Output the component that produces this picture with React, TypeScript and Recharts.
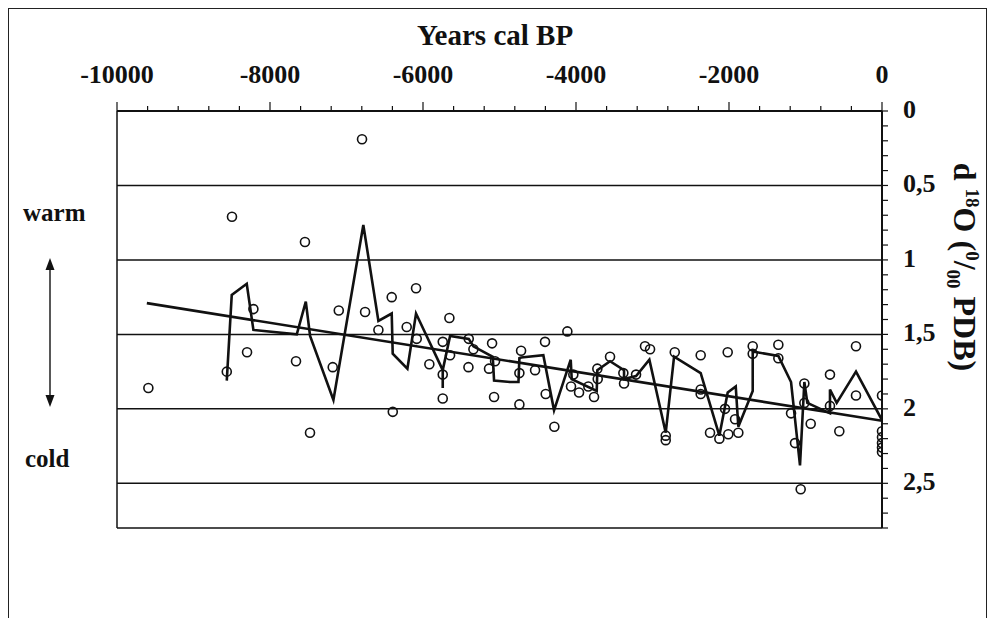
import { ComposedChart, Scatter, Line, XAxis, YAxis, ReferenceLine } from 'recharts'

// measured d18O samples (years cal BP, permil PDB)
const sampleAge = [
  -9590, -8565, -8497, -8300, -8217, -7660, -7543, -7477, -7180, -7101,
  -6797, -6757, -6583, -6409, -6395, -6213, -6091, -6082, -5917, -5742,
  -5742, -5742, -5655, -5646, -5402, -5406, -5341, -5097, -5058, -5137,
  -5071, -4718, -4740, -4740, -4535, -4405, -4396, -4283, -4113, -4065,
  -4035, -3960, -3839, -3764, -3721, -3716, -3555, -3381, -3372, -3215,
  -3098, -3032, -2827, -2827, -2709, -2370, -2370, -2370, -2248, -2126,
  -2017, -2009, -2052, -1921, -1878, -1690, -1690, -1355, -1355, -1189,
  -1137, -1063, -1015, -1015, -932, -680, -680, -558, -340, -340,
  0, 0, 0, 0, 0, 0,
]
const sampleD18O = [
  1.86, 1.75, 0.71, 1.62, 1.33, 1.68, 0.88, 2.16, 1.72, 1.34,
  0.19, 1.35, 1.47, 1.25, 2.02, 1.45, 1.19, 1.53, 1.7, 1.55,
  1.77, 1.93, 1.39, 1.64, 1.53, 1.72, 1.6, 1.56, 1.68, 1.73,
  1.92, 1.61, 1.76, 1.97, 1.74, 1.55, 1.9, 2.12, 1.48, 1.85,
  1.77, 1.89, 1.85, 1.92, 1.73, 1.8, 1.65, 1.76, 1.83, 1.77,
  1.58, 1.6, 2.18, 2.21, 1.62, 1.64, 1.87, 1.9, 2.16, 2.2,
  1.62, 2.17, 2.0, 2.07, 2.16, 1.58, 1.63, 1.57, 1.66, 2.03,
  2.23, 2.54, 1.83, 1.96, 2.1, 1.77, 1.98, 2.15, 1.58, 1.91,
  1.91, 2.15, 2.19, 2.23, 2.26, 2.29,
]

// smoothed curve
const curveAge = [
  -8565, -8500, -8304, -8217, -7650, -7532, -7476, -7171, -6780, -6583,
  -6409, -6396, -6204, -6091, -5742, -5742, -5742, -5646, -5402, -5341,
  -5088, -5071, -4862, -4752, -4740, -4718, -4427, -4287, -4069, -4056,
  -3729, -3721, -3555, -3372, -3372, -3215, -3041, -2827, -2718, -2370,
  -2126, -2017, -1912, -1878, -1690, -1690, -1355, -1189, -1072, -1015,
  -976, -680, -680, -592, -340, 0,
]
const curveD18O = [
  1.81, 1.235, 1.16, 1.47, 1.5, 1.28, 1.51, 1.94, 0.765, 1.41,
  1.36, 1.63, 1.73, 1.36, 1.74, 1.86, 1.74, 1.51, 1.53, 1.58,
  1.65, 1.81, 1.82, 1.82, 1.66, 1.655, 1.64, 2.01, 1.67, 1.8,
  1.88, 1.74, 1.68, 1.74, 1.8, 1.78, 1.67, 2.16, 1.65, 1.76,
  2.18, 1.89, 1.85, 2.12, 1.88, 1.615, 1.645, 1.82, 2.38, 1.82,
  1.96, 2.03, 1.87, 1.96, 1.75, 2.075,
]

// linear trend
const trendAge = [-9610, 0]
const trendD18O = [1.29, 2.08]

const xTicks = [
  -10000, -9600, -9200, -8800, -8400, -8000, -7600, -7200, -6800, -6400,
  -6000, -5600, -5200, -4800, -4400, -4000, -3600, -3200, -2800, -2400,
  -2000, -1600, -1200, -800, -400, 0,
]
const yTicks = [
  0, 0.1, 0.2, 0.3, 0.4, 0.5, 0.6, 0.7, 0.8, 0.9, 1, 1.1, 1.2, 1.3, 1.4,
  1.5, 1.6, 1.7, 1.8, 1.9, 2, 2.1, 2.2, 2.3, 2.4, 2.5, 2.6, 2.7, 2.8,
]
const gridValues = [0.5, 1, 1.5, 2, 2.5]

const samples = sampleAge.map((age, i) => ({ age, d18o: sampleD18O[i] }))
const curve = curveAge.map((age, i) => ({ age, d18o: curveD18O[i] }))
const trend = trendAge.map((age, i) => ({ age, d18o: trendD18O[i] }))

const FONT = '"Liberation Serif", "Times New Roman", serif'
const INK = '#111'

function TopTick(props: any) {
  const { x, y, payload } = props
  const major = payload.value % 2000 === 0
  return (
    <g>
      <line x1={x} y1={y} x2={x} y2={y - (major ? 9 : 5)} stroke={INK} strokeWidth={1.2} />
      {major && (
        <text x={x} y={y - 28} textAnchor="middle" fontFamily={FONT} fontWeight="bold" fontSize={26} fill={INK}>
          {payload.value}
        </text>
      )}
    </g>
  )
}

function RightTick(props: any) {
  const { x, y, payload } = props
  const v = payload.value
  if (Math.abs(v * 2 - Math.round(v * 2)) > 1e-6) return <g />
  return (
    <text x={x} y={y + 7} textAnchor="start" fontFamily={FONT} fontWeight="bold" fontSize={26} fill={INK}>
      {String(v).replace('.', ',')}
    </text>
  )
}

function Ring(props: any) {
  return <circle cx={props.cx} cy={props.cy} r={4.5} fill="none" stroke={INK} strokeWidth={1.6} />
}

export default function App() {
  return (
    <div style={{ position: 'fixed', left: 0, top: 0, width: 987, height: 618, background: '#fff', overflow: 'hidden' }}>
      <div style={{ position: 'absolute', left: 8, top: 8 }}>
        <ComposedChart width={979} height={610} margin={{ top: 43, right: 45, bottom: 90, left: 109 }}>
          <XAxis
            xAxisId={0}
            dataKey="age"
            type="number"
            orientation="top"
            domain={[-10000, 0]}
            allowDataOverflow
            ticks={xTicks}
            interval={0}
            height={60}
            tickSize={0}
            tickMargin={0}
            tickLine={false}
            tick={<TopTick />}
            axisLine={{ stroke: INK, strokeWidth: 2 }}
          />
          <YAxis
            yAxisId={0}
            dataKey="d18o"
            type="number"
            orientation="right"
            reversed
            domain={[0, 2.8]}
            allowDataOverflow
            ticks={yTicks}
            interval={0}
            width={60}
            tickSize={6}
            tickMargin={15}
            tickLine={{ stroke: INK, strokeWidth: 1.2 }}
            tick={<RightTick />}
            axisLine={{ stroke: INK, strokeWidth: 2 }}
          />
          {gridValues.map((v) => (
            <ReferenceLine key={v} y={v} stroke={INK} strokeWidth={1.5} />
          ))}
          <ReferenceLine y={2.8} stroke={INK} strokeWidth={1.5} />
          <ReferenceLine x={-10000} stroke={INK} strokeWidth={1.5} />
          <Scatter data={samples} dataKey="d18o" shape={<Ring />} isAnimationActive={false} />
          <Line data={curve} dataKey="d18o" type="linear" stroke={INK} strokeWidth={2.6} dot={false} isAnimationActive={false} />
          <Line data={trend} dataKey="d18o" type="linear" stroke={INK} strokeWidth={2.6} dot={false} isAnimationActive={false} />
        </ComposedChart>
      </div>
      <div
        style={{
          position: 'absolute', left: 8, top: 8, width: 977, height: 620,
          border: '1px solid #222', borderBottom: 'none', pointerEvents: 'none',
        }}
      />
      <svg width={987} height={618} style={{ position: 'absolute', left: 0, top: 0, pointerEvents: 'none' }}>
        <text x={495} y={45} textAnchor="middle" fontFamily={FONT} fontWeight="bold" fontSize={29} fill={INK}>
          Years cal BP
        </text>
        <text x={23} y={221} fontFamily={FONT} fontWeight="bold" fontSize={25} fill={INK}>warm</text>
        <text x={25} y={467} fontFamily={FONT} fontWeight="bold" fontSize={25} fill={INK}>cold</text>
        <line x1={50} y1={266} x2={50} y2={398} stroke={INK} strokeWidth={1.4} />
        <polygon points="50,258 45.5,270 54.5,270" fill={INK} />
        <polygon points="50,407 45.5,395 54.5,395" fill={INK} />
        <text
          transform="translate(954, 267) rotate(90)"
          textAnchor="middle"
          fontFamily={FONT}
          fontWeight="bold"
          fontSize={32}
          fill={INK}
        >
          d <tspan fontSize={19} dy={-12}>18</tspan>
          <tspan dy={12}>O (</tspan>
          <tspan fontSize={19} dy={-12}>0</tspan>
          <tspan dy={12}>/</tspan>
          <tspan fontSize={19} dy={7}>00</tspan>
          <tspan dy={-7}> PDB)</tspan>
        </text>
      </svg>
    </div>
  )
}
